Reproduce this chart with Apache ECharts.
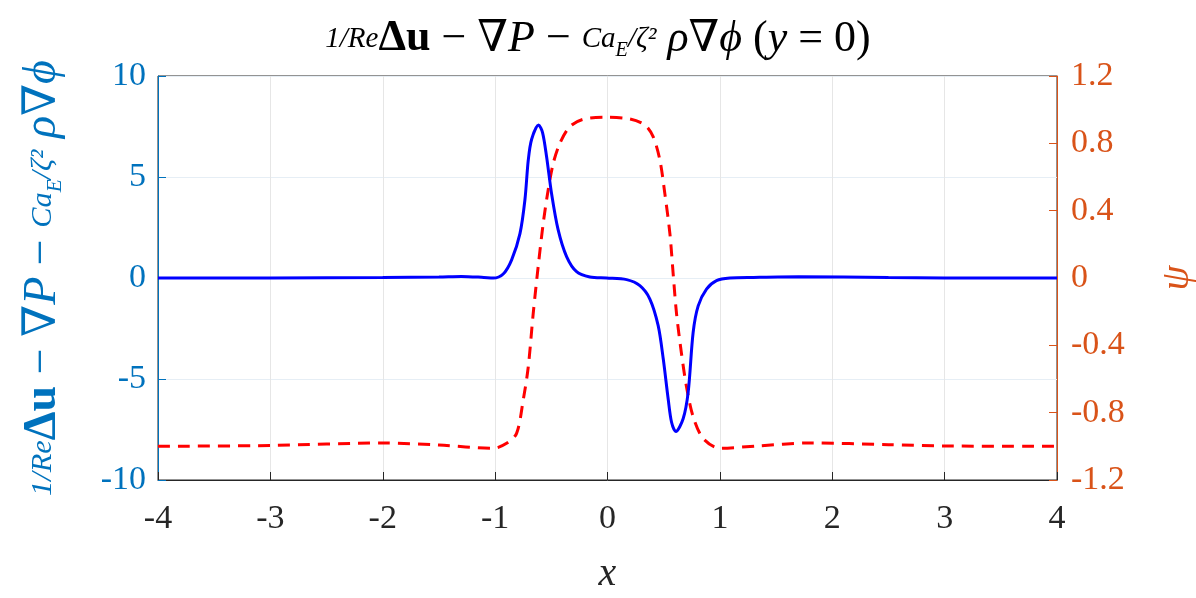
<!DOCTYPE html>
<html>
<head>
<meta charset="utf-8">
<script src="https://cdn.jsdelivr.net/npm/echarts@6/dist/echarts.min.js"></script>
<style>
  html, body { margin: 0; padding: 0; background: #fff; }
  #chart { width: 1196px; height: 598px; }
</style>
</head>
<body>
<div id="chart"></div>
<script>
// blue curve: 1/Re Δu − ∇P − Ca_E/ζ² ρ∇ϕ along y = 0
const forceX = [-4, -3, -2, -1.5, -1.3, -1.1, -1.017, -0.928, -0.853, -0.779, -0.735, -0.705, -0.675, -0.613, -0.578, -0.542, -0.498, -0.439, -0.364, -0.275, -0.157, -0.008, 0.17, 0.288, 0.377, 0.451, 0.496, 0.54, 0.57, 0.608, 0.673, 0.718, 0.762, 0.807, 0.881, 0.97, 1.089, 1.3, 1.7, 2.5, 3, 4];
const forceY = [0, 0, 0.02, 0.05, 0.08, 0.03, 0, 0.2, 0.9, 2.2, 3.86, 5.84, 6.87, 7.57, 7.2, 6.0, 4.19, 2.38, 1.06, 0.31, 0.05, 0, -0.08, -0.38, -1.04, -2.36, -4.0, -5.99, -7.14, -7.6, -6.97, -5.65, -2.7, -1.38, -0.55, -0.13, 0, 0.03, 0.06, 0.02, 0, 0];
// red dashed curve: psi (right axis)
const psiX = [-4, -3, -2, -1.5, -1.017, -0.898, -0.809, -0.75, -0.705, -0.661, -0.617, -0.572, -0.528, -0.483, -0.424, -0.335, -0.217, -0.008, 0.199, 0.333, 0.406, 0.466, 0.51, 0.555, 0.584, 0.614, 0.658, 0.703, 0.762, 0.851, 1.0, 1.326, 1.8, 2.5, 3, 4];
const psiY = [-1.0, -0.995, -0.98, -0.992, -1.012, -0.982, -0.923, -0.725, -0.527, -0.21, 0.067, 0.325, 0.523, 0.681, 0.8, 0.899, 0.943, 0.955, 0.945, 0.909, 0.84, 0.701, 0.503, 0.265, 0.028, -0.21, -0.447, -0.646, -0.824, -0.953, -1.012, -0.998, -0.98, -0.99, -0.998, -1.0];
// axis ticks
const xTicks = [-4, 4, 1];
const leftTicks = [-10, 10, 5];
const rightTicks = [-1.2, 1.2, 0.4];

const serif = '"Liberation Serif", "DejaVu Serif", serif';
const blue = '#0072BD';
const orange = '#D95319';

function fmt (v) {
  let r = Math.round(v * 10) / 10;
  return r === 0 ? '0' : String(r);
}

const mathRich = function (color, size) {
  return {
    n: { fontFamily: serif, fontSize: size, color: color, fontWeight: 'normal' },
    i: { fontFamily: serif, fontSize: size, color: color, fontWeight: 'normal', fontStyle: 'italic' },
    b: { fontFamily: serif, fontSize: size, color: color, fontWeight: 'bold' },
    f: { fontFamily: serif, fontSize: size * 0.66, color: color, fontWeight: 'normal', fontStyle: 'italic' },
    s: { fontFamily: serif, fontSize: size * 0.46, color: color, fontWeight: 'normal', fontStyle: 'italic', verticalAlign: 'bottom' }
  };
};

const chart = echarts.init(document.getElementById('chart'));
const option = {
  animation: false,
  title: {
    text: '{f|1/Re}{b|Δu}{n| − ∇}{i|P}{n| − }{f|Ca}{s|E}{f|/ζ²}{i| ρ}{n|∇}{i|ϕ}{n| (}{i|y}{n| = 0)}',
    left: 'center',
    top: 12,
    textStyle: { fontWeight: 'normal', rich: mathRich('#000', 44) }
  },
  grid: {
    left: 158,
    right: 139,
    top: 76,
    bottom: 118,
    outerBoundsMode: 'none',
    containLabel: false,
    show: true,
    borderColor: '#262626',
    borderWidth: 1
  },
  xAxis: {
    type: 'value',
    min: xTicks[0],
    max: xTicks[1],
    interval: xTicks[2],
    name: 'x',
    nameLocation: 'middle',
    nameGap: 74,
    nameTextStyle: { fontFamily: serif, fontSize: 40, fontStyle: 'italic', color: '#262626' },
    axisLine: { onZero: false, lineStyle: { color: '#262626', width: 1 } },
    axisTick: { inside: true, length: 8, lineStyle: { color: '#262626' } },
    axisLabel: { fontFamily: serif, fontSize: 34, color: '#262626', margin: 22, formatter: fmt },
    splitLine: { show: true, lineStyle: { color: '#e6e6e6', width: 1 } }
  },
  yAxis: [
    {
      type: 'value',
      position: 'left',
      min: leftTicks[0],
      max: leftTicks[1],
      interval: leftTicks[2],
      name: '{f|1/Re}{b|Δu}{n| − ∇}{i|P}{n| − }{f|Ca}{s|E}{f|/ζ²}{i| ρ}{n|∇}{i|ϕ}',
      nameLocation: 'middle',
      nameRotate: 90,
      nameGap: 92,
      nameTextStyle: { fontWeight: 'normal', rich: mathRich(blue, 46) },
      axisLine: { show: true, onZero: false, lineStyle: { color: blue, width: 1 } },
      axisTick: { show: true, inside: true, length: 8, lineStyle: { color: blue } },
      axisLabel: { fontFamily: serif, fontSize: 34, color: blue, margin: 12, formatter: fmt },
      splitLine: { show: true, lineStyle: { color: '#e6eef5', width: 1 } }
    },
    {
      type: 'value',
      position: 'right',
      min: rightTicks[0],
      max: rightTicks[1],
      interval: rightTicks[2],
      name: 'ψ',
      nameLocation: 'middle',
      nameRotate: 90,
      nameGap: 100,
      nameTextStyle: { fontFamily: serif, fontSize: 40, fontStyle: 'italic', color: orange },
      axisLine: { show: true, onZero: false, lineStyle: { color: orange, width: 1 } },
      axisTick: { show: true, inside: true, length: 8, lineStyle: { color: orange } },
      axisLabel: { fontFamily: serif, fontSize: 34, color: orange, margin: 14, formatter: fmt },
      splitLine: { show: false }
    }
  ],
  series: [
    {
      name: 'force',
      type: 'line',
      yAxisIndex: 0,
      showSymbol: false,
      smooth: 0.3,
      data: forceX.map((x, i) => [x, forceY[i]]),
      lineStyle: { color: '#0000ff', width: 3 },
      z: 3
    },
    {
      name: 'psi',
      type: 'line',
      yAxisIndex: 1,
      showSymbol: false,
      smooth: 0.3,
      data: psiX.map((x, i) => [x, psiY[i]]),
      lineStyle: { color: '#ff0000', width: 3, type: [12, 8] },
      z: 2
    }
  ]
};
chart.setOption(option);
</script>
</body>
</html>
